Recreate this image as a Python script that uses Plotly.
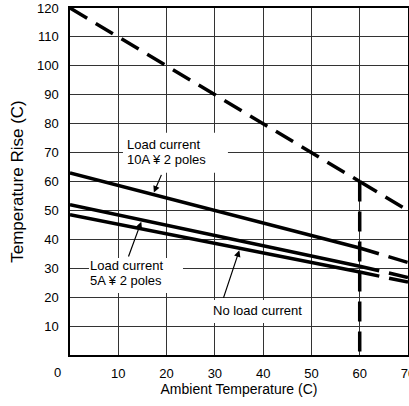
import numpy as np
import plotly.graph_objects as go

# ---- data ----
temp = [0, 60, 70]                 # ambient temperature (C): start, rated end, extension
rise_10a = [63, 37, 32]            # load current 10A x 2 poles
rise_5a = [52, 30.7, 26.8]         # load current 5A x 2 poles
rise_noload = [48.5, 28.7, 25.2]   # no load current
limit_temp = [0, 60, 70]           # limit (dashed) line
limit_rise = [120, 60, 50]
limit_vertical_x = [60, 60]
limit_vertical_y = [60, 0]

x_ticks = [10, 20, 30, 40, 50, 60, 70]
y_ticks = [10, 20, 30, 40, 50, 60, 70, 80, 90, 100, 110, 120]

FONT = "Liberation Sans, Arial, Helvetica, sans-serif"
FS = 13
LW = 3.5
DASH = "20px,10px"

fig = go.Figure()

def add_line(xs, ys, dash=None):
    fig.add_trace(go.Scatter(x=xs, y=ys, mode="lines",
                             line=dict(color="black", width=LW, dash=dash),
                             hoverinfo="skip"))

# limit line (dashed), restarted at 60 so the pattern starts at the corner
add_line(limit_temp[:2], limit_rise[:2], DASH)
add_line(limit_temp[1:], limit_rise[1:], DASH)
add_line(limit_vertical_x, limit_vertical_y, DASH)

for series in (rise_10a, rise_5a, rise_noload):
    add_line(temp[:2], series[:2])          # solid up to 60 C
    add_line(temp[1:], series[1:], DASH)    # dashed beyond 60 C

# white backgrounds behind the callout labels (hide the grid there)
shapes = []
for (x0, x1, y0, y1) in [(10.97, 32.71, 63.0, 76.84),
                         (3.93, 23.4, 21.46, 33.58),
                         (28.57, 49.69, 11.08, 19.04)]:
    shapes.append(dict(type="rect", xref="x", yref="y", x0=x0, x1=x1, y0=y0, y1=y1,
                       fillcolor="white", line=dict(width=0), layer="above"))

ann = []

def label(text, x, y, xanchor="left"):
    ann.append(dict(x=x, y=y, xref="x", yref="y", text=text, showarrow=False,
                    xanchor=xanchor, yanchor="middle", borderpad=0,
                    font=dict(family=FONT, size=FS, color="black")))

def arrow(series, hx, ax, ay):
    hy = float(np.interp(hx, temp[:2], series[:2]))
    ann.append(dict(x=hx, y=hy, xref="x", yref="y", text="", showarrow=True,
                    ax=ax, ay=ay, arrowhead=2, arrowsize=1.1, arrowwidth=1.2,
                    arrowcolor="black", standoff=2))

# 10A label
label("Load current", 11.6, 72.97)
label("10A ¥ 2 poles", 11.6, 67.67)
arrow(rise_10a, 17.2, 9, -21)
# 5A label
label("Load current", 4.0, 31.05)
label("5A ¥ 2 poles", 4.0, 25.61)
arrow(rise_5a, 14.9, -14, 38)
# no load label
label("No load current", 38.88, 15.47, xanchor="center")
arrow(rise_noload, 35.2, -17, 51)

# shared origin label "0"
ann.append(dict(x=0, y=0, xref="x", yref="y", text="0", showarrow=False,
                xanchor="center", yanchor="middle", xshift=-13, yshift=-17,
                font=dict(family=FONT, size=FS, color="black")))

fig.update_layout(
    width=409, height=406,
    margin=dict(l=70, r=1, t=8, b=51),
    paper_bgcolor="white", plot_bgcolor="white",
    showlegend=False,
    font=dict(family=FONT, size=FS, color="black"),
    annotations=ann, shapes=shapes,
)
fig.update_xaxes(
    range=[0, 70], tickvals=x_ticks, ticktext=[str(v) for v in x_ticks],
    showgrid=True, gridcolor="#333333", gridwidth=1,
    showline=True, linecolor="black", linewidth=1.5, mirror=True,
    zeroline=False, ticks="", ticklabelstandoff=6, automargin=False,
    ticklabeloverflow="allow",
    tickfont=dict(family=FONT, size=FS, color="black"),
    title=dict(text="Ambient Temperature (C)", standoff=4,
               font=dict(family=FONT, size=14, color="black")),
)
fig.update_yaxes(
    range=[0, 120], tickvals=y_ticks, ticktext=[str(v) for v in y_ticks],
    showgrid=True, gridcolor="#333333", gridwidth=1,
    showline=True, linecolor="black", linewidth=1.5, mirror=True,
    zeroline=False, ticks="", ticklabelstandoff=7, automargin=False,
    ticklabeloverflow="allow",
    tickfont=dict(family=FONT, size=FS, color="black"),
    title=dict(text="Temperature Rise (C)", standoff=9,
               font=dict(family=FONT, size=17, color="black")),
)

fig.write_html("out.html", config={"displayModeBar": False},
               post_script="document.body.style.margin='0';")
